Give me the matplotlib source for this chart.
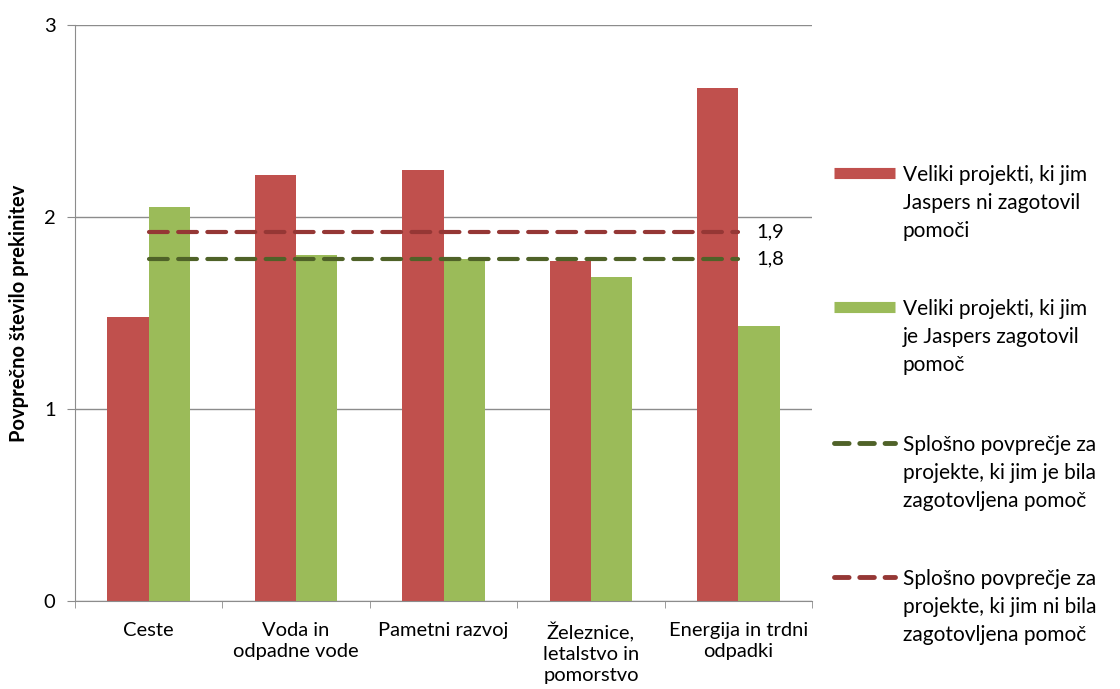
import numpy as np
import matplotlib.pyplot as plt
from matplotlib.lines import Line2D

plt.rcParams['font.family'] = ['Lato', 'DejaVu Sans']

categories = ['Ceste', 'Voda in\nodpadne vode', 'Pametni razvoj',
              'Železnice,\nletalstvo in\npomorstvo', 'Energija in trdni\nodpadki']
brez_pomoci = [1.48, 2.22, 2.245, 1.77, 2.67]
s_pomocjo = [2.05, 1.80, 1.78, 1.69, 1.43]
avg_brez = 1.92
avg_s = 1.78
avg_brez_label = '1,9'
avg_s_label = '1,8'

legend_labels = ['Veliki projekti, ki jim\nJaspers ni zagotovil\npomoči',
                 'Veliki projekti, ki jim\nje Jaspers zagotovil\npomoč',
                 'Splošno povprečje za\nprojekte, ki jim je bila\nzagotovljena pomoč',
                 'Splošno povprečje za\nprojekte, ki jim ni bila\nzagotovljena pomoč']

red = '#C0504D'
green = '#9BBB59'
red_dark = '#953735'
green_dark = '#4F6228'
grid = '#8C8C8C'

fig = plt.figure(figsize=(11.2, 6.89), dpi=100)
ax = fig.add_axes([0.067, 0.1277, 0.658, 0.836])

x = np.arange(len(categories))
w = 0.28
ax.bar(x - w / 2, brez_pomoci, w, color=red, zorder=2)
ax.bar(x + w / 2, s_pomocjo, w, color=green, zorder=2)

ax.plot([x[0], x[-1]], [avg_brez, avg_brez], color=red_dark, lw=3,
        dashes=(4.5, 2.5), dash_capstyle='round', zorder=3)
ax.plot([x[0], x[-1]], [avg_s, avg_s], color=green_dark, lw=3,
        dashes=(4.5, 2.5), dash_capstyle='round', zorder=3)
ax.annotate(avg_brez_label, (x[-1], avg_brez), xytext=(13, 0), textcoords='offset points',
            va='center', fontsize=14.5)
ax.annotate(avg_s_label, (x[-1], avg_s), xytext=(13, 0), textcoords='offset points',
            va='center', fontsize=14.5)

ax.set_xlim(-0.5, len(categories) - 0.5)
ax.set_ylim(0, 3)
ax.set_yticks([0, 1, 2, 3])
ax.set_yticklabels(['0', '1', '2', '3'], fontsize=14.5)
ax.yaxis.grid(True, color=grid, lw=1)
ax.set_axisbelow(True)

ax.set_xticks(x)
ax.set_xticklabels(categories, fontsize=14.5, linespacing=1.3, va='top')
ax.set_xticks(np.arange(-0.5, len(categories)), minor=True)
ax.tick_params(axis='x', which='major', length=0, pad=15)
ax.tick_params(axis='x', which='minor', length=5, color=grid, direction='out')
ax.tick_params(axis='y', length=6, color=grid, direction='out', pad=8)

for s in ['top', 'right']:
    ax.spines[s].set_visible(False)
for s in ['left', 'bottom']:
    ax.spines[s].set_color(grid)

ax.set_ylabel('Povprečno število prekinitev', fontsize=14.5, fontweight='bold')
ax.yaxis.set_label_coords(-0.062, 0.5)

# legend drawn by hand so the key sits beside the first text line
handles = [dict(color=red, lw=8, solid_capstyle='butt'),
           dict(color=green, lw=8, solid_capstyle='butt'),
           dict(color=green_dark, lw=3.5, dashes=(3, 2.2), dash_capstyle='round'),
           dict(color=red_dark, lw=3.5, dashes=(3, 2.2), dash_capstyle='round')]
leg_y = [173, 307, 443, 577]
for style, label, py in zip(handles, legend_labels, leg_y):
    yf = 1 - py / 689
    fig.add_artist(Line2D([834 / 1120, 895 / 1120], [yf, yf], transform=fig.transFigure, **style))
    fig.text(903 / 1120, 1 - (py - 8) / 689, label, fontsize=15, va='top', ha='left',
             linespacing=1.5)

fig.savefig('out.png', dpi=100)
